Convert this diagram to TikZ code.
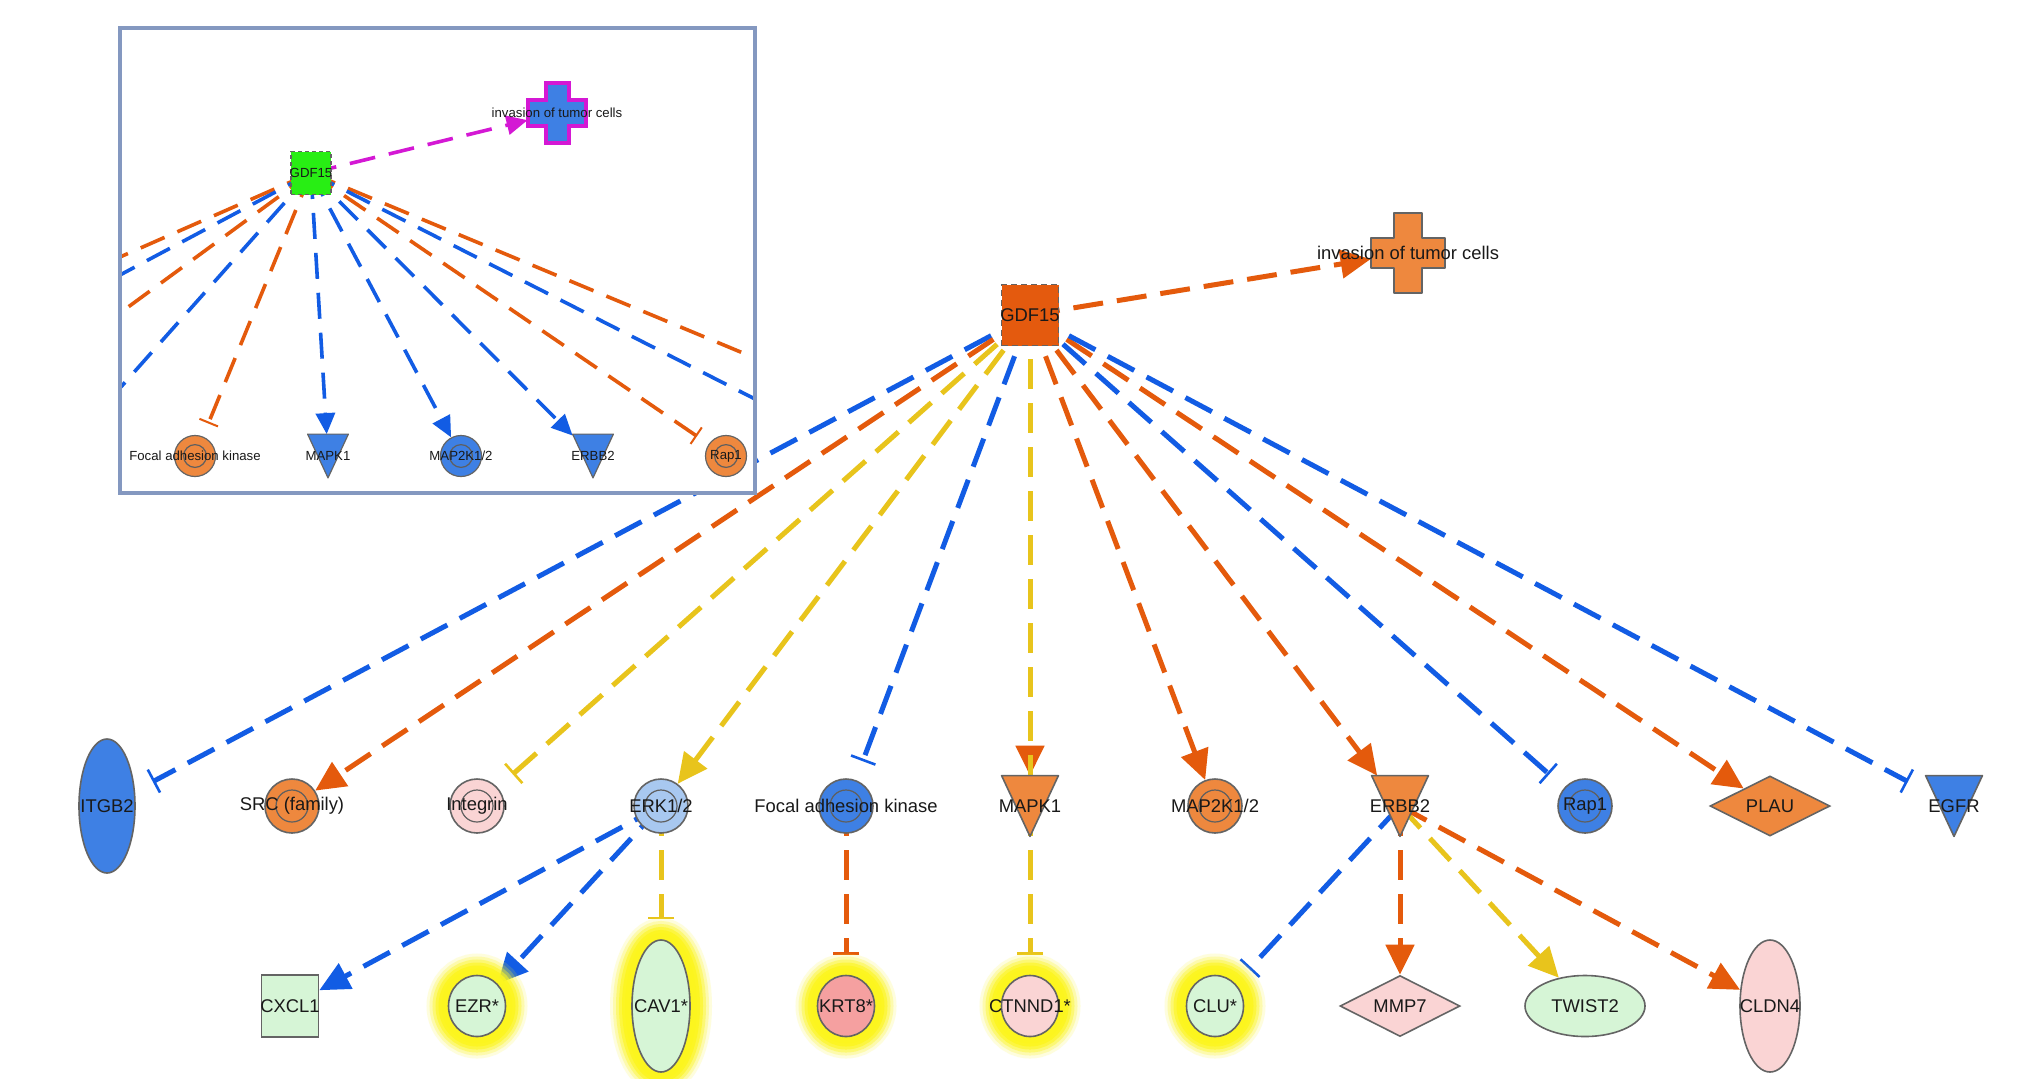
\documentclass[tikz,border=0pt]{standalone}
\usepackage{fontspec}
\setmainfont{Liberation Sans}
\usetikzlibrary{arrows.meta,shapes.geometric,calc}

\definecolor{eblue}{RGB}{18,92,228}
\definecolor{eorange}{RGB}{228,90,12}
\definecolor{eyellow}{RGB}{232,196,28}
\definecolor{emag}{RGB}{212,24,212}
\definecolor{nblue}{RGB}{62,128,228}
\definecolor{norange}{RGB}{238,136,62}
\definecolor{ndorange}{RGB}{228,90,14}
\definecolor{npink}{RGB}{250,212,212}
\definecolor{ngreen}{RGB}{214,245,214}
\definecolor{nsalmon}{RGB}{245,160,160}
\definecolor{nlblue}{RGB}{168,200,240}
\definecolor{ngdfgreen}{RGB}{40,238,20}
\definecolor{nborder}{RGB}{100,100,100}
\definecolor{ringc}{RGB}{95,95,95}
\definecolor{glowY}{RGB}{252,245,30}
\definecolor{boxc}{RGB}{132,152,192}
\definecolor{txt}{RGB}{25,25,25}

\newcommand\ztxt[1]{\makebox[0pt]{#1}}

\pgfdeclarelayer{background}
\pgfdeclarelayer{shapes}
\pgfdeclarelayer{insetbg}
\pgfdeclarelayer{insetedges}
\pgfdeclarelayer{insetshapes}
\pgfdeclarelayer{insetfg}
\pgfsetlayers{background,shapes,main,insetbg,insetedges,insetshapes,insetfg}

\begin{document}
\begin{tikzpicture}[x=0.5pt, y=-0.5pt,
  lbl/.style={font=\fontsize{9.2}{11}\selectfont, text=txt},
  ilbl/.style={font=\fontsize{6.6}{8}\selectfont, text=txt},
  nd/.style={draw=nborder, line width=0.8pt, inner sep=0pt, lbl},
  ind/.style={draw=nborder, line width=0.6pt, inner sep=0pt, ilbl},
  ringed/.style={path picture={\draw[ringc, line width=0.6pt] (path picture bounding box.center) circle[radius=#1];}},
  circ/.style={nd, circle, minimum size=27pt, ringed=8pt},
  icirc/.style={ind, circle, minimum size=20.5pt, ringed=5.7pt},
  glow/.style={preaction={draw=glowY, line width=22pt, opacity=0.15},
               preaction={draw=glowY, line width=19pt, opacity=0.25},
               preaction={draw=glowY, line width=16pt, opacity=0.4},
               preaction={draw=glowY, line width=13pt, opacity=0.6},
               preaction={draw=glowY, line width=10pt, opacity=0.85},
               preaction={draw=glowY, line width=7pt}},
  ell/.style 2 args={nd, ellipse, minimum width=#1, minimum height=#2},
  gcirc/.style={ell={28.5pt}{30.5pt}, glow},
  trinode/.style={rectangle, inner sep=0pt, minimum width=28pt, minimum height=30pt, lbl},
  itrinode/.style={rectangle, inner sep=0pt, minimum width=20pt, minimum height=21.5pt, ilbl},
  trishape/.style={draw=nborder, line width=0.8pt, line join=round},
  me/.style={line width=2.5pt, dash pattern=on 15pt off 7pt},
  ie/.style={line width=1.8pt, dash pattern=on 13pt off 7pt},
  act/.style={-{Triangle[length=15pt,width=14pt]}},
  inh/.style={-{Bar[width=13pt,line width=1.3pt]}, shorten >=10pt},
  iact/.style={-{Triangle[length=10.5pt,width=9.5pt]}},
  iinh/.style={-{Bar[width=10pt,line width=1pt]}, shorten >=7pt}
]
\useasboundingbox (0,0) rectangle (2023,1078);
\begin{pgfonlayer}{background}
\fill[white] (0,0) rectangle (2023,1078);
\end{pgfonlayer}

% ---------- main nodes ----------
\node[nd, rectangle, fill=ndorange, minimum width=28.5pt, minimum height=30.5pt,
      dash pattern=on 3pt off 2pt] (gdf) at (1030,315) {\ztxt{GDF15}};
\node[rectangle, inner sep=0pt, minimum width=37pt, minimum height=40pt, lbl] (inv) at (1408,253) {\ztxt{invasion of tumor cells}};

\node[ell={28pt}{67pt}, fill=nblue] (itgb2) at (107,806) {\ztxt{ITGB2}};
\node[circ, fill=norange] (src) at (292,806) {\ztxt{SRC (family)}};
\node[circ, fill=npink] (integrin) at (477,806) {\ztxt{Integrin}};
\node[circ, fill=nlblue] (erk) at (661,806) {\ztxt{ERK1/2}};
\node[circ, fill=nblue] (fak) at (846,806) {\ztxt{Focal adhesion kinase}};
\node[trinode] (mapk1) at (1030,806) {\ztxt{MAPK1}};
\node[circ, fill=norange] (map2k) at (1215,806) {\ztxt{MAP2K1/2}};
\node[trinode] (erbb2) at (1400,806) {\ztxt{ERBB2}};
\node[circ, fill=nblue] (rap1) at (1585,806) {\ztxt{Rap1}};
\node[nd, diamond, fill=norange, minimum width=60pt, minimum height=30pt] (plau) at (1770,806) {\ztxt{PLAU}};
\node[trinode] (egfr) at (1954,806) {\ztxt{EGFR}};

\node[nd, rectangle, fill=ngreen, minimum width=28.5pt, minimum height=31pt] (cxcl1) at (290,1006) {\ztxt{CXCL1}};
\node[gcirc, fill=ngreen] (ezr) at (477,1006) {\ztxt{EZR*}};
\node[ell={29pt}{66pt}, fill=ngreen, glow] (cav1) at (661,1006) {\ztxt{CAV1*}};
\node[gcirc, fill=nsalmon] (krt8) at (846,1006) {\ztxt{KRT8*}};
\node[gcirc, fill=npink] (ctnnd1) at (1030,1006) {\ztxt{CTNND1*}};
\node[gcirc, fill=ngreen] (clu) at (1215,1006) {\ztxt{CLU*}};
\node[nd, diamond, fill=npink, minimum width=60pt, minimum height=30.5pt] (mmp7) at (1400,1006) {\ztxt{MMP7}};
\node[ell={60pt}{30.5pt}, fill=ngreen] (twist2) at (1585,1006) {\ztxt{TWIST2}};
\node[ell={30pt}{66pt}, fill=npink] (cldn4) at (1770,1006) {\ztxt{CLDN4}};

% ---------- main shapes drawn from node anchors ----------
\begin{pgfonlayer}{shapes}
\filldraw[trishape, fill=norange] (mapk1.north west) -- (mapk1.north east) -- (mapk1.south) -- cycle;
\filldraw[trishape, fill=norange] (erbb2.north west) -- (erbb2.north east) -- (erbb2.south) -- cycle;
\filldraw[trishape, fill=nblue] (egfr.north west) -- (egfr.north east) -- (egfr.south) -- cycle;
\filldraw[trishape, fill=norange, shift={(inv.center)}]
  (-14,-40) -- (14,-40) -- (14,-15) -- (37,-15) -- (37,15) -- (14,15) -- (14,40)
  -- (-14,40) -- (-14,15) -- (-37,15) -- (-37,-15) -- (-14,-15) -- cycle;
\end{pgfonlayer}

% ---------- main connectors ----------
\begin{pgfonlayer}{background}
\draw[me, draw=eblue, inh] (gdf.center) -- (itgb2);
\draw[me, draw=eorange, act] (gdf.center) -- (src);
\draw[me, draw=eyellow, inh] (gdf.center) -- (integrin);
\draw[me, draw=eyellow, act] (gdf.center) -- (erk);
\draw[me, draw=eblue, inh] (gdf.center) -- (fak);
\draw[me, draw=eorange, act] (gdf.center) -- (mapk1);
\draw[me, draw=eyellow] (gdf.center) -- (mapk1);
\draw[me, draw=eorange, act] (gdf.center) -- (map2k);
\draw[me, draw=eorange, act] (gdf.center) -- (erbb2);
\draw[me, draw=eblue, inh] (gdf.center) -- (rap1);
\draw[me, draw=eorange, act] (gdf.center) -- (plau);
\draw[me, draw=eblue, inh] (gdf.center) -- (egfr);
\draw[me, draw=eorange, act] (gdf.center) -- (inv);

\draw[me, draw=eblue, act] (erk.center) -- (cxcl1);
\draw[me, draw=eblue, act] (erk.center) -- (ezr);
\draw[me, draw=eyellow, inh] (erk.center) -- (cav1);
\draw[me, draw=eorange, inh] (fak.center) -- (krt8);
\draw[me, draw=eyellow, inh] (mapk1.center) -- (ctnnd1);
\draw[me, draw=eblue, inh] (erbb2.center) -- (clu);
\draw[me, draw=eorange, act] (erbb2.center) -- (mmp7);
\draw[me, draw=eyellow, act] (erbb2.center) -- (twist2);
\draw[me, draw=eorange, act] (erbb2.center) -- (cldn4);
\end{pgfonlayer}

% ---------- inset ----------
\begin{pgfonlayer}{insetbg}
\fill[white] (120,28) rectangle (755,493);
\end{pgfonlayer}

\begin{pgfonlayer}{insetfg}
\node[ind, rectangle, fill=ngdfgreen, minimum width=20pt, minimum height=21.5pt,
      dash pattern=on 2pt off 1.5pt] (igdf) at (311,173) {\ztxt{GDF15}};
\node[rectangle, inner sep=0pt, minimum width=29pt, minimum height=30pt, ilbl] (iinv) at (557,113) {\ztxt{invasion of tumor cells}};
\node[icirc, fill=norange] (ifak) at (195,456) {\ztxt{Focal adhesion kinase}};
\node[itrinode] (imapk1) at (328,456) {\ztxt{MAPK1}};
\node[icirc, fill=nblue] (imap2k) at (461,456) {\ztxt{MAP2K1/2}};
\node[itrinode] (ierbb2) at (593,456) {\ztxt{ERBB2}};
\node[icirc, fill=norange] (irap1) at (726,456) {\ztxt{Rap1}};
\draw[boxc, line width=1.6pt] (120,28) rectangle (755,493);
\end{pgfonlayer}

\coordinate (il1) at (120,257);
\coordinate (il2) at (120,275);
\coordinate (il3) at (120,313);
\coordinate (il4) at (120,388);
\coordinate (ir1) at (755,358);
\coordinate (ir2) at (755,399);

\begin{pgfonlayer}{insetshapes}
\filldraw[trishape, line width=0.6pt, fill=nblue] (imapk1.north west) -- (imapk1.north east) -- (imapk1.south) -- cycle;
\filldraw[trishape, line width=0.6pt, fill=nblue] (ierbb2.north west) -- (ierbb2.north east) -- (ierbb2.south) -- cycle;
\filldraw[draw=emag, line width=2pt, fill=nblue, shift={(iinv.center)}]
  (-11.5,-30) -- (11.5,-30) -- (11.5,-13) -- (29,-13) -- (29,13) -- (11.5,13) -- (11.5,30)
  -- (-11.5,30) -- (-11.5,13) -- (-29,13) -- (-29,-13) -- (-11.5,-13) -- cycle;
\end{pgfonlayer}

\begin{pgfonlayer}{insetedges}
\draw[ie, draw=eorange] (igdf.center) -- (il1);
\draw[ie, draw=eblue] (igdf.center) -- (il2);
\draw[ie, draw=eorange] (igdf.center) -- (il3);
\draw[ie, draw=eblue] (igdf.center) -- (il4);
\draw[ie, draw=eorange, iinh] (igdf.center) -- (ifak);
\draw[ie, draw=eblue, iact] (igdf.center) -- (imapk1);
\draw[ie, draw=eblue, iact] (igdf.center) -- (imap2k);
\draw[ie, draw=eblue, iact] (igdf.center) -- (ierbb2);
\draw[ie, draw=eorange, iinh] (igdf.center) -- (irap1);
\draw[ie, draw=eorange] (igdf.center) -- (ir1);
\draw[ie, draw=eblue] (igdf.center) -- (ir2);
\draw[ie, draw=emag, iact] (igdf.center) -- (iinv);
\end{pgfonlayer}
\end{tikzpicture}
\end{document}
